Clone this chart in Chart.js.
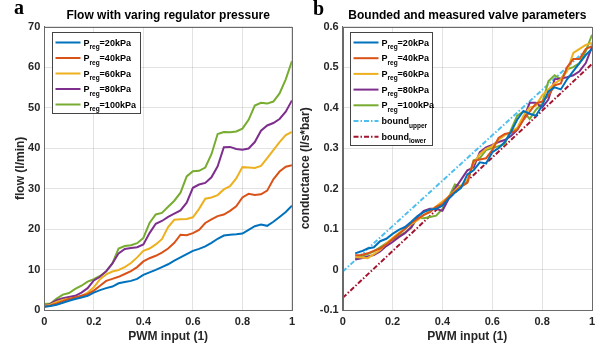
<!DOCTYPE html>
<html>
<head>
<meta charset="utf-8">
<script src="https://cdn.jsdelivr.net/npm/chart.js@4.4.0/dist/chart.umd.min.js"></script>
<style>
body { margin: 0; background: #fff; }
#wrap { position: relative; width: 603px; height: 349px; }
canvas { position: absolute; top: 0; }
#cFlow { left: 0; }
#cCond { left: 300px; }
.panel { position: absolute; font: bold 20px "Liberation Serif", serif; line-height: 20px; color: #000; }
</style>
</head>
<body>
<div id="wrap">
  <canvas id="cFlow" width="300" height="349"></canvas>
  <canvas id="cCond" width="303" height="349"></canvas>
  <div class="panel" style="left:14px;top:-3px">a</div>
  <div class="panel" style="left:313px;top:-2px">b</div>
</div>
<script>
// series names (the part after "_" is drawn as subscript)
const seriesNames = ['P_reg=20kPa', 'P_reg=40kPa', 'P_reg=60kPa', 'P_reg=80kPa', 'P_reg=100kPa'];
const boundNames = ['bound_upper', 'bound_lower'];
const seriesColors = ['#0072BD', '#D95319', '#EDB120', '#7E2F8E', '#77AC30'];
const boundColors = ['#4DBEEE', '#A2142F'];

// shared ticks
const pwmTicks = [0, 0.2, 0.4, 0.6, 0.8, 1];
const flowTicks = [0, 10, 20, 30, 40, 50, 60, 70];
const condTicks = [-0.1, 0, 0.1, 0.2, 0.3, 0.4, 0.5, 0.6];

// panel a: flow (l/min) vs PWM input
const flowX = [0, 0.025, 0.05, 0.075, 0.1, 0.125, 0.15, 0.175, 0.2, 0.225, 0.25, 0.275, 0.3, 0.325, 0.35, 0.375, 0.4,
  0.425, 0.45, 0.475, 0.5, 0.525, 0.55, 0.575, 0.6, 0.625, 0.65, 0.675, 0.7, 0.725, 0.75, 0.775, 0.8, 0.825, 0.85,
  0.875, 0.9, 0.925, 0.95, 0.975, 1];
const flow20 = [0.8, 1.0, 1.3, 1.8, 2.3, 2.7, 3.1, 3.5, 4.3, 4.9, 5.4, 5.8, 6.6, 6.9, 7.2, 7.7, 8.7, 9.3, 9.9, 10.6,
  11.3, 12.2, 13.0, 13.8, 14.6, 15.1, 15.7, 16.6, 17.6, 18.4, 18.6, 18.7, 18.9, 19.8, 20.7, 21.1, 20.8, 21.8, 23.0, 24.2, 25.8];
const flow40 = [0.8, 1.1, 1.6, 2.2, 2.7, 3.1, 3.5, 3.9, 4.8, 6.0, 7.2, 7.7, 8.2, 8.9, 9.6, 10.6, 12.0, 12.8, 13.4, 14.2,
  15.2, 16.6, 18.6, 18.5, 19.0, 19.8, 21.5, 22.4, 23.2, 23.6, 24.5, 25.6, 27.8, 28.7, 28.4, 28.6, 29.5, 32.3, 34.2, 35.4, 35.8];
const flow60 = [1.0, 1.3, 2.0, 2.5, 2.8, 3.0, 3.5, 4.3, 5.6, 7.6, 8.8, 9.5, 9.9, 10.6, 11.6, 13.0, 14.6, 15.2, 16.2, 17.5,
  20.5, 22.3, 22.4, 22.5, 22.9, 25.0, 27.5, 27.8, 28.4, 29.8, 30.6, 32.5, 35.3, 35.2, 35.1, 35.6, 37.5, 39.5, 41.5, 43.2, 44.0];
const flow80 = [1.0, 1.5, 2.4, 2.9, 3.2, 3.5, 4.3, 5.4, 7.3, 8.2, 9.6, 11.5, 14.0, 15.1, 15.3, 15.5, 16.2, 19.0, 21.3, 22.0,
  23.0, 23.8, 24.6, 26.5, 30.2, 31.0, 31.4, 32.8, 35.5, 40.2, 40.3, 39.8, 39.6, 39.9, 41.5, 44.3, 45.6, 46.2, 47.2, 49.0, 51.8];
const flow100 = [1.5, 1.6, 2.8, 3.8, 4.2, 5.2, 6.0, 7.0, 7.6, 8.4, 9.5, 11.5, 15.2, 15.8, 16.0, 16.5, 17.8, 21.5, 23.6, 24.0,
  25.5, 27.0, 29.0, 33.0, 34.3, 34.4, 35.2, 38.5, 43.5, 44.0, 43.9, 44.1, 44.8, 47.0, 50.5, 51.2, 51.0, 51.5, 53.5, 57.0, 61.5];

// panel b: conductance (l/s*bar) vs PWM input
const condX = [0.05, 0.075, 0.1, 0.125, 0.15, 0.175, 0.2, 0.225, 0.25, 0.275, 0.3, 0.325, 0.35, 0.375, 0.4, 0.425, 0.45,
  0.475, 0.5, 0.525, 0.55, 0.575, 0.6, 0.625, 0.65, 0.675, 0.7, 0.725, 0.75, 0.775, 0.8, 0.825, 0.85, 0.875, 0.9, 0.925,
  0.95, 0.975, 1];
const cond20 = [0.040, 0.045, 0.052, 0.055, 0.070, 0.076, 0.088, 0.098, 0.105, 0.118, 0.132, 0.142, 0.148, 0.150, 0.158,
  0.175, 0.190, 0.202, 0.235, 0.245, 0.265, 0.262, 0.290, 0.300, 0.315, 0.340, 0.370, 0.392, 0.385, 0.380, 0.405, 0.440,
  0.450, 0.445, 0.470, 0.490, 0.510, 0.530, 0.545];
const cond40 = [0.035, 0.036, 0.040, 0.046, 0.052, 0.062, 0.075, 0.088, 0.100, 0.115, 0.125, 0.135, 0.142, 0.155, 0.162,
  0.180, 0.192, 0.205, 0.215, 0.268, 0.272, 0.275, 0.295, 0.325, 0.335, 0.338, 0.345, 0.370, 0.390, 0.410, 0.415, 0.430,
  0.455, 0.460, 0.500, 0.520, 0.520, 0.545, 0.552];
const cond60 = [0.031, 0.030, 0.028, 0.038, 0.048, 0.065, 0.078, 0.090, 0.102, 0.112, 0.122, 0.134, 0.145, 0.156, 0.168,
  0.180, 0.195, 0.208, 0.222, 0.262, 0.285, 0.298, 0.305, 0.320, 0.332, 0.340, 0.350, 0.380, 0.400, 0.405, 0.430, 0.445,
  0.460, 0.470, 0.490, 0.535, 0.545, 0.555, 0.560];
const cond80 = [0.025, 0.028, 0.032, 0.036, 0.045, 0.058, 0.068, 0.080, 0.090, 0.105, 0.130, 0.145, 0.150, 0.150, 0.145,
  0.175, 0.200, 0.222, 0.245, 0.252, 0.290, 0.302, 0.308, 0.315, 0.320, 0.330, 0.345, 0.372, 0.412, 0.412, 0.400, 0.420,
  0.470, 0.472, 0.475, 0.480, 0.490, 0.510, 0.550];
const cond100 = [0.028, 0.033, 0.038, 0.045, 0.055, 0.065, 0.073, 0.083, 0.092, 0.103, 0.128, 0.127, 0.130, 0.133, 0.150,
  0.178, 0.210, 0.205, 0.215, 0.270, 0.275, 0.295, 0.300, 0.305, 0.310, 0.345, 0.380, 0.390, 0.372, 0.395, 0.410, 0.465,
  0.480, 0.470, 0.495, 0.500, 0.510, 0.540, 0.580];
const boundX = [0, 1];
const boundUpper = [-0.005, 0.556];
const boundLower = [-0.07, 0.508];

const FONT = '"Liberation Sans", Arial, sans-serif';
const GRID = 'rgba(0,0,0,0.11)';
const AXIS = '#6a6a6a';

function pts(xs, ys) {
  return xs.map((x, i) => ({ x: x, y: ys[i] }));
}

// box around the axes + MATLAB-like legend with subscripts
const boxLegend = {
  id: 'boxLegend',
  afterDatasetsDraw(chart, args, opts) {
    const ctx = chart.ctx;
    const a = chart.chartArea;
    ctx.save();
    ctx.strokeStyle = AXIS;
    ctx.lineWidth = 1;
    ctx.strokeRect(Math.round(a.left) + 0.5, Math.round(a.top) + 0.5,
      Math.round(a.right - a.left), Math.round(a.bottom - a.top));

    const bx = Math.round(a.left + opts.dx) + 0.5;
    const by = Math.round(a.top + opts.dy) + 0.5;
    ctx.fillStyle = '#fff';
    ctx.fillRect(bx, by, opts.w, opts.h);
    ctx.strokeStyle = '#444';
    ctx.strokeRect(bx, by, opts.w, opts.h);

    chart.data.datasets.forEach((ds, i) => {
      const y = by + opts.first + i * opts.row;
      ctx.strokeStyle = ds.borderColor;
      ctx.lineWidth = 2;
      ctx.setLineDash(ds.borderDash || []);
      ctx.beginPath();
      ctx.moveTo(bx + 3, y);
      ctx.lineTo(bx + 28, y);
      ctx.stroke();
      ctx.setLineDash([]);

      const m = ds.label.match(/^([^_]+)_([a-z]+)(.*)$/);
      let tx = bx + 31;
      ctx.fillStyle = '#000';
      ctx.textBaseline = 'alphabetic';
      ctx.font = 'bold 9px ' + FONT;
      ctx.fillText(m[1], tx, y + 3);
      tx += ctx.measureText(m[1]).width;
      ctx.font = 'bold 6.5px ' + FONT;
      ctx.fillText(m[2], tx, y + 6.5);
      tx += ctx.measureText(m[2]).width;
      ctx.font = 'bold 9px ' + FONT;
      ctx.fillText(m[3], tx, y + 3);
    });
    ctx.restore();
  }
};

function fmt(v) {
  return String(Number(v.toFixed(1)));
}

function axes(yTicks, yMin, yMax, yTitle, yWidth, yTitlePad) {
  return {
    x: {
      type: 'linear', min: 0, max: 1,
      afterBuildTicks: s => { s.ticks = pwmTicks.map(v => ({ value: v })); },
      afterFit: s => { s.height = 39; },
      grid: { color: GRID, drawTicks: false },
      border: { color: AXIS },
      ticks: { padding: 5, color: '#262626', font: { family: FONT, size: 11, weight: 'bold' }, callback: fmt },
      title: { display: true, text: 'PWM input (1)', color: '#262626',
        font: { family: FONT, size: 12, weight: 'bold' }, padding: { top: 0, bottom: 5 } }
    },
    y: {
      type: 'linear', min: yMin, max: yMax,
      afterBuildTicks: s => { s.ticks = yTicks.map(v => ({ value: v })); },
      afterFit: s => { s.width = yWidth; },
      grid: { color: GRID, drawTicks: false },
      border: { color: AXIS },
      ticks: { padding: 4, color: '#262626', font: { family: FONT, size: 11, weight: 'bold' }, callback: fmt },
      title: { display: true, text: yTitle, color: '#262626',
        font: { family: FONT, size: 12, weight: 'bold' }, padding: { top: yTitlePad, bottom: 0 } }
    }
  };
}

function titleOpts(text) {
  return {
    display: true, text: text, fullSize: false, color: '#000',
    font: { family: FONT, size: 12, weight: 'bold' },
    padding: { top: 8, bottom: 4.3 }
  };
}

const flowSets = [flow20, flow40, flow60, flow80, flow100].map((ys, i) => ({
  label: seriesNames[i], data: pts(flowX, ys),
  borderColor: seriesColors[i], borderWidth: 2, pointRadius: 0, fill: false
}));

new Chart(document.getElementById('cFlow'), {
  type: 'line',
  data: { datasets: flowSets },
  options: {
    responsive: false, animation: false, devicePixelRatio: 1,
    layout: { padding: { left: 0, right: 7, top: 0, bottom: 0 } },
    plugins: {
      legend: { display: false },
      tooltip: { enabled: false },
      title: titleOpts('Flow with varing regulator pressure'),
      boxLegend: { dx: 8, dy: 5, w: 88, h: 81, first: 10, row: 15.5 }
    },
    scales: axes(flowTicks, 0, 70, 'flow (l/min)', 44.3, 13)
  },
  plugins: [boxLegend]
});

const condSets = [cond20, cond40, cond60, cond80, cond100].map((ys, i) => ({
  label: seriesNames[i], data: pts(condX, ys),
  borderColor: seriesColors[i], borderWidth: 2, pointRadius: 0, fill: false
}));
[boundUpper, boundLower].forEach((ys, i) => {
  condSets.push({
    label: boundNames[i], data: pts(boundX, ys),
    borderColor: boundColors[i], borderWidth: 2, borderDash: [5, 2, 1.5, 2], pointRadius: 0, fill: false
  });
});

new Chart(document.getElementById('cCond'), {
  type: 'line',
  data: { datasets: condSets },
  options: {
    responsive: false, animation: false, devicePixelRatio: 1,
    layout: { padding: { left: 0, right: 11, top: 0, bottom: 0 } },
    plugins: {
      legend: { display: false },
      tooltip: { enabled: false },
      title: titleOpts('Bounded and measured valve parameters'),
      boxLegend: { dx: 7, dy: 5, w: 82, h: 113, first: 10, row: 15.7 }
    },
    scales: axes(condTicks, -0.1, 0.6, 'conductance (l/s*bar)', 42.7, -1.5)
  },
  plugins: [boxLegend]
});
</script>
</body>
</html>
